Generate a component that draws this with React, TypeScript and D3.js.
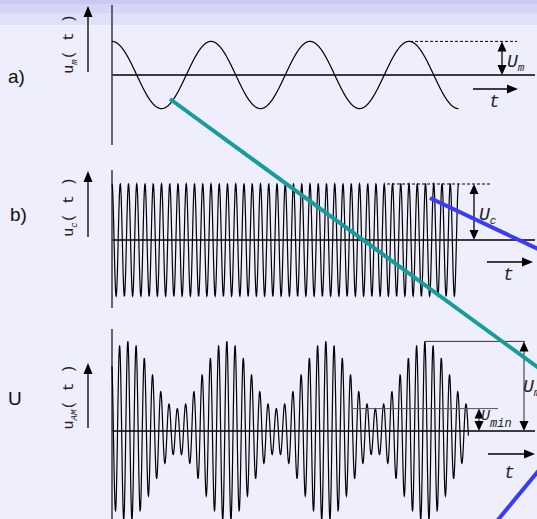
import React from 'react';
import * as d3 from 'd3';

const W = 537;
const H = 519;

// panel texts
const panelLabels = ['a)', 'b)', 'U'];
const signalSubs = ['m', 'c', 'AM'];
const amplitudeSubs = ['m', 'c', 'max', 'min'];

// signal parameters (amplitudes relative to the carrier)
const modAmplitude = 0.6;
const carrierAmplitude = 1.0;
const carrierRatio = 12; // carrier cycles per modulating cycle
const timeSpans = [[0, 3.5], [0, 3.5], [0, 3.6]];
const phases = [0, 0, 0.16];

// layout
const axisX = 112;
const centers = [75, 240, 431];
const axisTops = [5, 170, 329];
const axisBottoms = [145, 308, 519];
const labelArrows = [[6, 72], [171, 237], [363, 428]];
const labelMid = [44, 207, 397];
const panelLabelY = [83, 221, 405];

const MONO = '"Liberation Mono", "DejaVu Sans Mono", monospace';
const SANS = '"Liberation Sans", Arial, sans-serif';

const x = d3.scaleLinear().domain([0, 3.5]).range([axisX, axisX + 346.5]);
const yScales = centers.map(c => d3.scaleLinear().domain([-1, 1]).range([c + 56, c - 56]));

const signals = [
  (t: number) => modAmplitude * Math.cos(2 * Math.PI * (t - phases[0])),
  (t: number) => carrierAmplitude * Math.cos(2 * Math.PI * carrierRatio * (t - phases[1])),
  (t: number) =>
    (carrierAmplitude + modAmplitude * Math.cos(2 * Math.PI * (t - phases[2]))) *
    Math.cos(2 * Math.PI * carrierRatio * (t - phases[2])),
];

function UpArrow({ ax, y1, y2 }: { ax: number; y1: number; y2: number }) {
  return (
    <g>
      <line x1={ax} x2={ax} y1={y2} y2={y1 + 8} stroke="#000" strokeWidth={1.3} />
      <path d={`M${ax},${y1} L${ax - 4.5},${y1 + 11} L${ax + 4.5},${y1 + 11} Z`} fill="#000" />
    </g>
  );
}

function RightArrow({ x1, x2, ay }: { x1: number; x2: number; ay: number }) {
  return (
    <g>
      <line x1={x1} x2={x2 - 8} y1={ay} y2={ay} stroke="#000" strokeWidth={1.3} />
      <path d={`M${x2},${ay} L${x2 - 11},${ay - 4.5} L${x2 - 11},${ay + 4.5} Z`} fill="#000" />
    </g>
  );
}

function DoubleArrow({ ax, y1, y2, color = '#000' }: { ax: number; y1: number; y2: number; color?: string }) {
  return (
    <g>
      <line x1={ax} x2={ax} y1={y1 + 6} y2={y2 - 6} stroke={color} strokeWidth={1.3} />
      <path d={`M${ax},${y1} L${ax - 4.5},${y1 + 10} L${ax + 4.5},${y1 + 10} Z`} fill="#000" />
      <path d={`M${ax},${y2} L${ax - 4.5},${y2 - 10} L${ax + 4.5},${y2 - 10} Z`} fill="#000" />
    </g>
  );
}

function AmpLabel({ lx, ly, sub, size = 18, subSize = 11, dy = 4 }: { lx: number; ly: number; sub: string; size?: number; subSize?: number; dy?: number }) {
  return (
    <text x={lx} y={ly} fontFamily={MONO} fontStyle="italic" fontSize={size} fill="#222">
      U<tspan dy={dy} fontSize={subSize}>{sub}</tspan>
    </text>
  );
}

export default function App() {
  const line = d3.line<[number, number]>().x(d => d[0]).y(d => d[1]);

  const paths = signals.map((f, i) => {
    const [t0, t1] = timeSpans[i];
    const pts: [number, number][] = d3.range(t0, t1 + 1e-9, 0.002).map(t => [x(t), yScales[i](f(t))]);
    return line(pts) || '';
  });

  const yA = yScales[0];
  const yB = yScales[1];
  const yC = yScales[2];

  return (
    <svg width={W} height={H} style={{ position: 'absolute', left: 0, top: 0 }}>
      <rect width={W} height={H} fill="#eeeefc" />
      <rect width={W} height={4} fill="#c9c9f1" />
      <rect y={4} width={W} height={9} fill="#d5d5f7" />
      <rect y={13} width={W} height={12} fill="#e0e0fa" />

      {panelLabels.map((lab, i) => (
        <text key={'pl' + i} x={i === 1 ? 10 : 8} y={panelLabelY[i]} fontFamily={SANS} fontSize={19} fill="#111">
          {lab}
        </text>
      ))}

      {signalSubs.map((sub, i) => (
        <g key={'yl' + i}>
          <text
            transform={`translate(73,${labelMid[i]}) rotate(-90)`}
            textAnchor="middle"
            fontFamily={MONO}
            fontSize={15}
            fill="#222"
          >
            u<tspan dy={4} fontSize={9} fontStyle="italic">{sub}</tspan>
            <tspan dy={-4}>( t )</tspan>
          </text>
          <UpArrow ax={88} y1={labelArrows[i][0]} y2={labelArrows[i][1]} />
        </g>
      ))}

      {centers.map((c, i) => (
        <g key={'ax' + i}>
          <line x1={axisX} x2={535} y1={c} y2={c} stroke="#000" strokeWidth={1.3} />
          <line x1={axisX} x2={axisX} y1={axisTops[i]} y2={axisBottoms[i]} stroke="#444" strokeWidth={1.6} />
        </g>
      ))}

      {paths.map((d, i) => (
        <path key={'s' + i} d={d} fill="none" stroke="#000" strokeWidth={1.2} />
      ))}

      {/* panel a annotations */}
      <line x1={410} x2={517} y1={yA(modAmplitude)} y2={yA(modAmplitude)} stroke="#000" strokeWidth={1} strokeDasharray="3,2" />
      <DoubleArrow ax={502} y1={yA(modAmplitude)} y2={yA(0)} />
      <AmpLabel lx={507} ly={67} sub={amplitudeSubs[0]} />
      <RightArrow x1={473} x2={518} ay={89} />
      <text x={489} y={107} fontFamily={MONO} fontStyle="italic" fontSize={18} fill="#222">t</text>

      {/* panel b annotations */}
      <line x1={387} x2={490} y1={yB(carrierAmplitude)} y2={yB(carrierAmplitude)} stroke="#000" strokeWidth={1} strokeDasharray="3,2" />
      <DoubleArrow ax={474} y1={yB(carrierAmplitude)} y2={yB(0)} />
      <AmpLabel lx={479} ly={220} sub={amplitudeSubs[1]} />
      <RightArrow x1={487} x2={533} ay={262} />
      <text x={503} y={280} fontFamily={MONO} fontStyle="italic" fontSize={18} fill="#222">t</text>

      {/* panel c annotations */}
      <line x1={425} x2={525} y1={yC(carrierAmplitude + modAmplitude)} y2={yC(carrierAmplitude + modAmplitude)} stroke="#333" strokeWidth={1} />
      <DoubleArrow ax={524} y1={yC(carrierAmplitude + modAmplitude)} y2={yC(0)} color="#555" />
      <AmpLabel lx={523} ly={392} sub={amplitudeSubs[2]} />
      <line x1={352} x2={498} y1={yC(carrierAmplitude - modAmplitude)} y2={yC(carrierAmplitude - modAmplitude)} stroke="#555" strokeWidth={1} />
      <DoubleArrow ax={479} y1={yC(carrierAmplitude - modAmplitude)} y2={yC(0)} color="#555" />
      <AmpLabel lx={481} ly={420} sub={amplitudeSubs[3]} size={15} subSize={12} dy={7} />
      <RightArrow x1={488} x2={535} ay={454} />
      <text x={504} y={478} fontFamily={MONO} fontStyle="italic" fontSize={18} fill="#222">t</text>

      {/* overlay strokes */}
      <line x1={170} y1={99} x2={540} y2={369} stroke="#169c9c" strokeWidth={4} />
      <line x1={430} y1={198} x2={540} y2={250} stroke="#3b3bf6" strokeWidth={4} />
      <line x1={497} y1={521} x2={540} y2={469} stroke="#3b3bf6" strokeWidth={4} />
    </svg>
  );
}
